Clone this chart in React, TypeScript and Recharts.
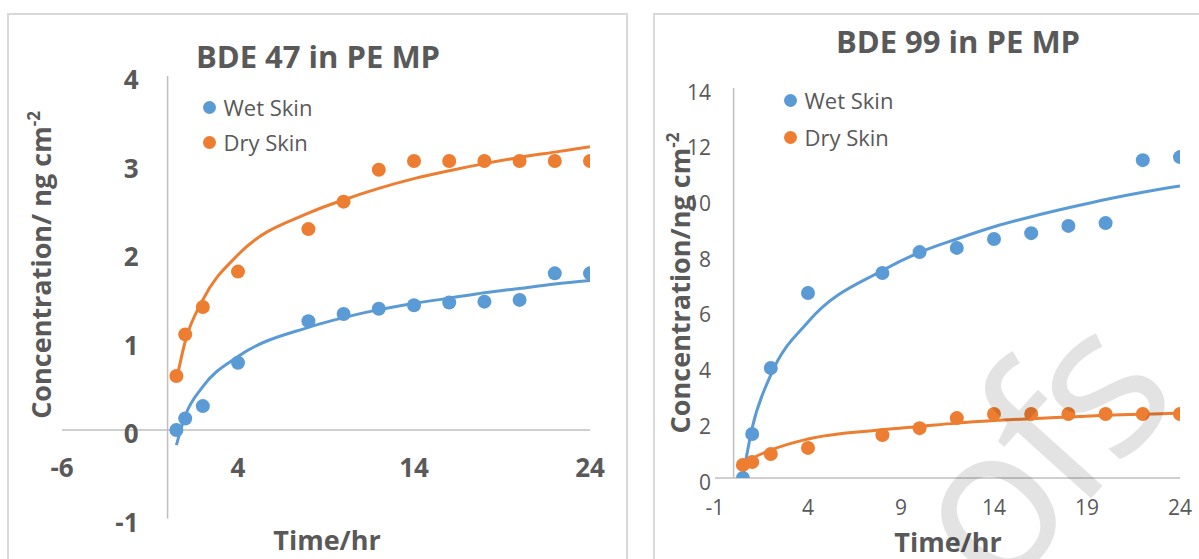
import React from "react";
import { ComposedChart, Scatter, Line, XAxis, YAxis, ReferenceLine, Legend } from "recharts";

const FONT = '"Open Sans", sans-serif';
const TEXT = "#595959";
const AXIS = "#bfbfbf";
const BLUE = "#5b9bd5";
const ORANGE = "#ed7d31";

// sampling times (hr), shared by both panels
const hours = [0.5, 1, 2, 4, 8, 10, 12, 14, 16, 18, 20, 22, 24];

// BDE 47 (ng cm-2)
const bde47Wet = [0, 0.13, 0.27, 0.76, 1.23, 1.31, 1.37, 1.41, 1.44, 1.45, 1.47, 1.77, 1.77];
const bde47Dry = [0.61, 1.08, 1.39, 1.79, 2.27, 2.58, 2.94, 3.04, 3.04, 3.04, 3.04, 3.04, 3.04];
const bde47WetTrend = [-0.17, 0.16, 0.49, 0.83, 1.16, 1.27, 1.36, 1.43, 1.49, 1.55, 1.6, 1.65, 1.69];
const bde47DryTrend = [0.56, 1.0, 1.47, 1.98, 2.45, 2.6, 2.73, 2.84, 2.93, 3.01, 3.08, 3.14, 3.2];

// BDE 99 (ng cm-2)
const bde99Wet = [0, 1.58, 3.95, 6.64, 7.36, 8.11, 8.26, 8.58, 8.79, 9.05, 9.15, 11.41, 11.52];
const bde99Dry = [0.47, 0.57, 0.86, 1.08, 1.54, 1.79, 2.15, 2.3, 2.3, 2.3, 2.3, 2.3, 2.3];
const bde99WetTrend = [0.05, 1.8, 3.7, 5.6, 7.45, 8.1, 8.58, 9.02, 9.38, 9.7, 10.0, 10.26, 10.48];
const bde99DryTrend = [0.36, 0.68, 1.0, 1.4, 1.73, 1.85, 1.97, 2.06, 2.13, 2.19, 2.25, 2.29, 2.33];

const ticks47X = [-6, 4, 14, 24];
const ticks47Y = [-1, 0, 1, 2, 3, 4];
const ticks99X = [-1, 4, 9, 14, 19, 24];
const ticks99Y = [0, 2, 4, 6, 8, 10, 12, 14];

const legendOrder = ["Wet Skin", "Dry Skin"];

const buildRows = (wet: number[], dry: number[], wetTrend: number[], dryTrend: number[]) =>
  hours.map((t, i) => ({ t, wet: wet[i], dry: dry[i], wetTrend: wetTrend[i], dryTrend: dryTrend[i] }));

const rows47 = buildRows(bde47Wet, bde47Dry, bde47WetTrend, bde47DryTrend);
const rows99 = buildRows(bde99Wet, bde99Dry, bde99WetTrend, bde99DryTrend);

// left panel geometry (plot area: x 62..590, y 76..518.5)
const L_W = 626;
const L_H = 559;
const L_YW = 30;
const L_XH = 30;
const L_M = { top: 76, right: 36, bottom: 40.5 - L_XH, left: 62 - L_YW };
const L_PLOT_LEFT = 62;
const L_ZERO_X = L_PLOT_LEFT + ((0 - -6) / 30) * (L_W - L_PLOT_LEFT - L_M.right);
const L_ZERO_Y = L_M.top + ((4 - 0) / 5) * (L_H - L_M.top - 40.5);

// right panel geometry (plot area: x 75..540, y 88..478)
const R_W = 559;
const R_H = 559;
const R_YW = 40;
const R_XH = 40;
const R_M = { top: 88, right: 19, bottom: 81 - R_XH, left: 75 - R_YW };
const R_PLOT_LEFT = 75;
const R_PLOT_BOTTOM = R_H - 81;

const dotShape = (color: string) => (props: any) =>
  <circle cx={props.cx} cy={props.cy} r={7} fill={color} />;

const leftXTick = (props: any) => (
  <text x={props.x} y={L_ZERO_Y + 38} dy="0.36em" textAnchor="middle"
    fontFamily={FONT} fontSize={26} fontWeight={700} fill={TEXT}>
    {props.payload.value}
  </text>
);

const leftYTick = (props: any) => (
  <text x={L_ZERO_X - 29} y={props.y + 4} dy="0.36em" textAnchor="end"
    fontFamily={FONT} fontSize={26} fontWeight={700} fill={TEXT}>
    {props.payload.value}
  </text>
);

const rightXTick = (props: any) => (
  <text x={props.x} y={R_PLOT_BOTTOM + 29} dy="0.36em" textAnchor="middle"
    fontFamily={FONT} fontSize={21} fill={TEXT}>
    {props.payload.value}
  </text>
);

const rightYTick = (props: any) => (
  <text x={R_PLOT_LEFT - 4} y={props.y + 4} dy="0.36em" textAnchor="end"
    fontFamily={FONT} fontSize={21} fill={TEXT}>
    {props.payload.value}
  </text>
);

function DotLegend({ payload, rowH }: any) {
  const items = legendOrder
    .map((name) => (payload ?? []).find((p: any) => p.value === name))
    .filter(Boolean);
  return (
    <div style={{ fontFamily: FONT, fontSize: 22, color: TEXT }}>
      {items.map((p: any) => (
        <div key={p.value} style={{ display: "flex", alignItems: "center", height: rowH, whiteSpace: "nowrap" }}>
          <span style={{ display: "inline-block", width: 13, height: 13, borderRadius: "50%", background: p.color, marginRight: 8 }} />
          {p.value}
        </div>
      ))}
    </div>
  );
}

export default function App() {
  return (
    <div style={{ position: "absolute", left: 0, top: 0, width: 1199, height: 559, overflow: "hidden", background: "#fff" }}>
      <div style={{ position: "absolute", left: 7, top: 13, width: 617, height: 600, border: "2px solid #d9d9d9" }} />
      <div style={{ position: "absolute", left: 653, top: 13, width: 600, height: 600, border: "2px solid #d9d9d9" }} />

      <div style={{ position: "absolute", left: 0, top: 0 }}>
        <ComposedChart width={L_W} height={L_H} data={rows47} margin={L_M}>
          <XAxis dataKey="t" type="number" domain={[-6, 24]} ticks={ticks47X} interval={0}
            allowDataOverflow axisLine={false} tickLine={false} height={L_XH} tick={leftXTick} />
          <YAxis type="number" domain={[-1, 4]} ticks={ticks47Y} interval={0}
            allowDataOverflow axisLine={false} tickLine={false} width={L_YW} tick={leftYTick} />
          <ReferenceLine x={0} stroke={AXIS} strokeWidth={1.5} />
          <ReferenceLine y={0} stroke={AXIS} strokeWidth={1.5} />
          <Legend layout="vertical" align="center" verticalAlign="middle"
            wrapperStyle={{ left: 202.5, top: 89.5, width: 160 }}
            content={(p: any) => <DotLegend {...p} rowH={35} />} />
          <Scatter name="Wet Skin" dataKey="wet" fill={BLUE} shape={dotShape(BLUE)} isAnimationActive={false} />
          <Scatter name="Dry Skin" dataKey="dry" fill={ORANGE} shape={dotShape(ORANGE)} isAnimationActive={false} />
          <Line dataKey="wetTrend" type="monotone" stroke={BLUE} strokeWidth={3} dot={false} activeDot={false}
            legendType="none" isAnimationActive={false} />
          <Line dataKey="dryTrend" type="monotone" stroke={ORANGE} strokeWidth={3} dot={false} activeDot={false}
            legendType="none" isAnimationActive={false} />
        </ComposedChart>
      </div>

      <div style={{ position: "absolute", left: 640, top: 0 }}>
        <ComposedChart width={R_W} height={R_H} data={rows99} margin={R_M}>
          <XAxis dataKey="t" type="number" domain={[-1, 24]} ticks={ticks99X} interval={0}
            allowDataOverflow axisLine={false} tickLine={false} height={R_XH} tick={rightXTick} />
          <YAxis type="number" domain={[0, 14]} ticks={ticks99Y} interval={0}
            allowDataOverflow axisLine={false} tickLine={false} width={R_YW} tick={rightYTick} />
          <ReferenceLine x={0} stroke={AXIS} strokeWidth={1.5} />
          <ReferenceLine y={0} stroke={AXIS} strokeWidth={1.5} />
          <Legend layout="vertical" align="center" verticalAlign="middle"
            wrapperStyle={{ left: 143.5, top: 81.5, width: 160 }}
            content={(p: any) => <DotLegend {...p} rowH={37} />} />
          <Scatter name="Wet Skin" dataKey="wet" fill={BLUE} shape={dotShape(BLUE)} isAnimationActive={false} />
          <Scatter name="Dry Skin" dataKey="dry" fill={ORANGE} shape={dotShape(ORANGE)} isAnimationActive={false} />
          <Line dataKey="wetTrend" type="monotone" stroke={BLUE} strokeWidth={3} dot={false} activeDot={false}
            legendType="none" isAnimationActive={false} />
          <Line dataKey="dryTrend" type="monotone" stroke={ORANGE} strokeWidth={3} dot={false} activeDot={false}
            legendType="none" isAnimationActive={false} />
        </ComposedChart>
      </div>

      {/* titles, axis titles and the proof watermark */}
      <svg width={1199} height={559} style={{ position: "absolute", left: 0, top: 0, pointerEvents: "none" }}>
        <g fontFamily={FONT} fontWeight={700} fill={TEXT}>
          <text x={318} y={68} fontSize={31} textAnchor="middle">BDE 47 in PE MP</text>
          <text x={958} y={53} fontSize={31} textAnchor="middle">BDE 99 in PE MP</text>
          <text x={327} y={550} fontSize={27} textAnchor="middle">Time/hr</text>
          <text x={948} y={552} fontSize={27} textAnchor="middle">Time/hr</text>
          <text x={51} y={265} fontSize={27} textAnchor="middle" transform="rotate(-90 51 265)">
            Concentration/ ng cm<tspan dy={-11} fontSize={17}>-2</tspan>
          </text>
          <text x={690} y={283} fontSize={27} textAnchor="middle" transform="rotate(-90 690 283)">
            Concentration/ng cm<tspan dy={-11} fontSize={17}>-2</tspan>
          </text>
        </g>
        <text x={0} y={0} transform="translate(998 602) rotate(-48)" fontFamily={FONT} fontSize={210}
          letterSpacing={-10} fill="#000" fillOpacity={0.11}>ofs</text>
      </svg>
    </div>
  );
}
